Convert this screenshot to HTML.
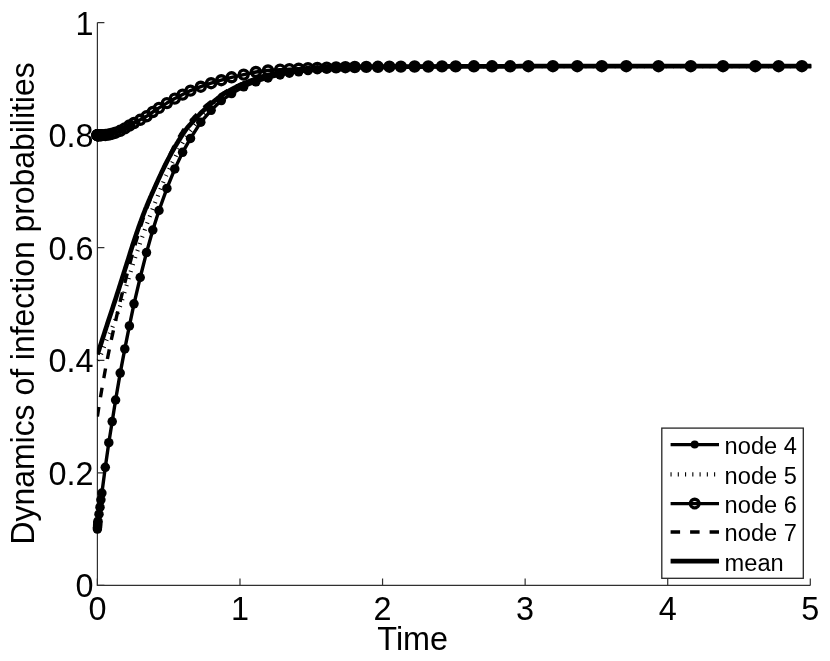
<!DOCTYPE html>
<html><head><meta charset="utf-8"><title>Dynamics of infection probabilities</title>
<style>
html,body{margin:0;padding:0;background:#fff;}
body{width:830px;height:661px;overflow:hidden;}
svg{display:block;will-change:transform;}
text{font-family:"Liberation Sans",sans-serif;fill:#000;}
.tk{font-size:34.0px;}
.lg{font-size:24.8px;}
</style></head><body>
<svg width="830" height="661" viewBox="0 0 830 661">
<rect width="830" height="661" fill="#fff"/>
<defs><clipPath id="ax"><rect x="96.9" y="0" width="714.3" height="600"/></clipPath></defs>

<path d="M97.4,22.6 L97.4,585.4 L810.3,585.4" fill="none" stroke="#303030" stroke-width="1.2"/>
<path d="M97.40,585.4 v-7 M239.98,585.4 v-7 M382.56,585.4 v-7 M525.14,585.4 v-7 M667.72,585.4 v-7 M810.30,585.4 v-7 M97.4,585.40 h7 M97.4,472.84 h7 M97.4,360.28 h7 M97.4,247.72 h7 M97.4,135.16 h7 M97.4,22.60 h7" fill="none" stroke="#303030" stroke-width="1.2"/>
<text class="tk" transform="translate(97.4,619.6) scale(0.953,1)" text-anchor="middle">0</text>
<text class="tk" transform="translate(240.0,619.6) scale(0.953,1)" text-anchor="middle">1</text>
<text class="tk" transform="translate(382.6,619.6) scale(0.953,1)" text-anchor="middle">2</text>
<text class="tk" transform="translate(525.1,619.6) scale(0.953,1)" text-anchor="middle">3</text>
<text class="tk" transform="translate(667.7,619.6) scale(0.953,1)" text-anchor="middle">4</text>
<text class="tk" transform="translate(810.3,619.6) scale(0.953,1)" text-anchor="middle">5</text>
<text class="tk" transform="translate(93.6,597.3) scale(0.953,1)" text-anchor="end">0</text>
<text class="tk" transform="translate(93.6,484.7) scale(0.953,1)" text-anchor="end">0.2</text>
<text class="tk" transform="translate(93.6,372.2) scale(0.953,1)" text-anchor="end">0.4</text>
<text class="tk" transform="translate(93.6,259.6) scale(0.953,1)" text-anchor="end">0.6</text>
<text class="tk" transform="translate(93.6,147.1) scale(0.953,1)" text-anchor="end">0.8</text>
<text class="tk" transform="translate(93.6,34.5) scale(0.953,1)" text-anchor="end">1</text>
<text class="tk" transform="translate(412.7,650.3) scale(0.953,1)" text-anchor="middle">Time</text>
<text class="tk" transform="translate(33.7,303.4) rotate(-90) scale(0.938,1)" text-anchor="middle">Dynamics of infection probabilities</text>
<path clip-path="url(#ax)" d="M97.4,529.1 L97.5,527.6 L97.6,526.1 L97.7,524.7 L97.8,522.8 L98.0,521.2 L99.0,514.2 L100.0,507.2 L100.9,499.8 L101.9,493.1 L105.3,467.3 L108.8,442.7 L112.2,421.6 L115.6,400.0 L120.2,373.1 L124.8,348.9 L129.4,325.9 L134.0,303.8 L140.2,277.5 L146.5,252.6 L152.8,230.0 L159.0,210.5 L166.9,188.4 L174.8,168.9 L182.6,152.3 L190.5,138.4 L200.8,122.2 L211.1,110.3 L221.3,100.6 L231.6,93.6 L243.7,86.8 L255.9,81.8 L268.0,77.9 L280.1,75.0 L289.4,73.2 L298.7,71.8 L308.0,70.6 L317.3,69.7 L326.7,68.9 L336.1,68.3 L345.4,67.8 L354.8,67.5 L366.3,67.2 L377.9,67.0 L389.4,66.8 L400.9,66.7 L414.6,66.6 L428.3,66.5 L442.0,66.5 L455.7,66.4 L473.9,66.3 L492.0,66.3 L510.2,66.3 L528.4,66.2 L552.9,66.2 L577.3,66.2 L601.8,66.2 L626.3,66.2 L658.5,66.2 L690.8,66.2 L723.0,66.2 L755.3,66.2 L778.6,66.2 L801.9,66.2 L815.0,66.2" fill="none" stroke="#000" stroke-width="3.4" stroke-linejoin="round"/>
<g fill="#000"><circle cx="97.4" cy="529.1" r="4.75"/><circle cx="97.5" cy="527.6" r="4.75"/><circle cx="97.6" cy="526.1" r="4.75"/><circle cx="97.7" cy="524.7" r="4.75"/><circle cx="97.8" cy="522.8" r="4.75"/><circle cx="98.0" cy="521.2" r="4.75"/><circle cx="99.0" cy="514.2" r="4.75"/><circle cx="100.0" cy="507.2" r="4.75"/><circle cx="100.9" cy="499.8" r="4.75"/><circle cx="101.9" cy="493.1" r="4.75"/><circle cx="105.3" cy="467.3" r="4.75"/><circle cx="108.8" cy="442.7" r="4.75"/><circle cx="112.2" cy="421.6" r="4.75"/><circle cx="115.6" cy="400.0" r="4.75"/><circle cx="120.2" cy="373.1" r="4.75"/><circle cx="124.8" cy="348.9" r="4.75"/><circle cx="129.4" cy="325.9" r="4.75"/><circle cx="134.0" cy="303.8" r="4.75"/><circle cx="140.2" cy="277.5" r="4.75"/><circle cx="146.5" cy="252.6" r="4.75"/><circle cx="152.8" cy="230.0" r="4.75"/><circle cx="159.0" cy="210.5" r="4.75"/><circle cx="166.9" cy="188.4" r="4.75"/><circle cx="174.8" cy="168.9" r="4.75"/><circle cx="182.6" cy="152.3" r="4.75"/><circle cx="190.5" cy="138.4" r="4.75"/><circle cx="200.8" cy="122.2" r="4.75"/><circle cx="211.1" cy="110.3" r="4.75"/><circle cx="221.3" cy="100.6" r="4.75"/><circle cx="231.6" cy="93.6" r="4.75"/><circle cx="243.7" cy="86.8" r="4.75"/><circle cx="255.9" cy="81.8" r="4.75"/><circle cx="268.0" cy="77.9" r="4.75"/><circle cx="280.1" cy="75.0" r="4.75"/><circle cx="289.4" cy="73.2" r="4.75"/><circle cx="298.7" cy="71.8" r="4.75"/><circle cx="308.0" cy="70.6" r="4.75"/><circle cx="317.3" cy="69.7" r="4.75"/><circle cx="326.7" cy="68.9" r="4.75"/><circle cx="336.1" cy="68.3" r="4.75"/><circle cx="345.4" cy="67.8" r="4.75"/><circle cx="354.8" cy="67.5" r="4.75"/><circle cx="366.3" cy="67.2" r="4.75"/><circle cx="377.9" cy="67.0" r="4.75"/><circle cx="389.4" cy="66.8" r="4.75"/><circle cx="400.9" cy="66.7" r="4.75"/><circle cx="414.6" cy="66.6" r="4.75"/><circle cx="428.3" cy="66.5" r="4.75"/><circle cx="442.0" cy="66.5" r="4.75"/><circle cx="455.7" cy="66.4" r="4.75"/><circle cx="473.9" cy="66.3" r="4.75"/><circle cx="492.0" cy="66.3" r="4.75"/><circle cx="510.2" cy="66.3" r="4.75"/><circle cx="528.4" cy="66.2" r="4.75"/><circle cx="552.9" cy="66.2" r="4.75"/><circle cx="577.3" cy="66.2" r="4.75"/><circle cx="601.8" cy="66.2" r="4.75"/><circle cx="626.3" cy="66.2" r="4.75"/><circle cx="658.5" cy="66.2" r="4.75"/><circle cx="690.8" cy="66.2" r="4.75"/><circle cx="723.0" cy="66.2" r="4.75"/><circle cx="755.3" cy="66.2" r="4.75"/><circle cx="778.6" cy="66.2" r="4.75"/><circle cx="801.9" cy="66.2" r="4.75"/></g>
<path clip-path="url(#ax)" d="M97.4,360.5 L97.9,359.7 L98.4,359.0 L98.9,358.2 L99.4,357.3 L99.9,356.4 L100.4,355.4 L100.9,354.4 L101.4,353.3 L101.9,352.1 L102.4,350.9 L102.9,349.6 L103.4,348.3 L103.9,347.0 L104.4,345.7 L104.9,344.3 L105.4,343.0 L105.9,341.8 L106.4,340.5 L106.9,339.4 L107.4,338.3 L107.9,337.3 L108.4,336.3 L108.9,335.3 L109.4,334.2 L109.9,333.1 L110.4,332.0 L110.9,330.9 L111.4,329.7 L111.9,328.5 L112.4,327.4 L112.9,326.1 L113.4,324.9 L113.9,323.7 L114.4,322.4 L114.9,321.0 L115.4,319.6 L115.9,318.2 L116.4,316.8 L116.9,315.4 L117.4,314.0 L117.9,312.6 L118.4,311.2 L118.9,309.7 L119.4,308.3 L119.9,306.8 L120.4,305.3 L120.9,303.7 L121.4,302.2 L121.9,300.6 L122.4,299.0 L122.9,297.4 L123.4,295.8 L123.9,294.2 L124.4,292.6 L124.9,290.9 L125.4,289.2 L125.9,287.6 L126.4,285.9 L126.9,284.3 L127.4,282.6 L127.9,280.9 L128.4,279.3 L128.9,277.6 L129.4,275.9 L129.9,274.3 L130.4,272.6 L130.9,271.0 L131.4,269.4 L131.9,267.7 L132.4,266.1 L132.9,264.6 L133.4,263.0 L133.9,261.4 L134.4,259.9 L134.9,258.4 L135.4,256.9 L135.9,255.4 L136.4,253.9 L136.9,252.5 L137.4,251.0 L137.9,249.5 L138.4,248.0 L138.9,246.6 L139.4,245.1 L139.9,243.7 L140.4,242.2 L140.9,240.8 L141.4,239.4 L141.9,237.9 L142.4,236.5 L142.9,235.1 L143.4,233.8 L143.9,232.4 L144.4,231.0 L144.9,229.6 L145.4,228.3 L145.9,226.9 L146.4,225.5 L146.9,224.2 L147.4,222.8 L147.9,221.4 L148.4,220.1 L148.9,218.8 L149.4,217.4 L149.9,216.1 L150.4,214.8 L150.9,213.5 L151.4,212.2 L151.9,210.9 L152.4,209.6 L152.9,208.3 L153.4,207.1 L153.9,205.8 L154.4,204.5 L154.9,203.3 L155.4,202.0 L155.9,200.8 L156.4,199.5 L156.9,198.2 L157.4,197.0 L157.9,195.7 L158.4,194.5 L158.9,193.2 L159.4,192.0 L159.9,190.7 L160.4,189.4 L160.9,188.2 L161.4,186.9 L161.9,185.7 L162.4,184.4 L162.9,183.2 L163.4,182.0 L163.9,180.8 L164.4,179.6 L164.9,178.4 L165.4,177.3 L165.9,176.1 L166.4,175.0 L166.9,173.9 L167.4,172.9 L167.9,171.8 L168.4,170.7 L168.9,169.7 L169.4,168.7 L169.9,167.6 L170.4,166.6 L170.9,165.6 L171.4,164.6 L171.9,163.6 L172.4,162.6 L172.9,161.7 L173.4,160.7 L173.9,159.7 L174.4,158.7 L174.9,157.8 L175.4,156.8 L175.9,155.8 L176.4,154.8 L176.9,153.8 L177.4,152.9 L177.9,151.9 L178.4,150.9 L178.9,149.9 L179.4,149.0 L179.9,148.0 L180.4,147.1 L180.9,146.2 L181.4,145.3 L181.9,144.4 L182.4,143.5 L182.9,142.6 L183.4,141.7 L183.9,140.9 L184.4,140.0 L184.9,139.2 L185.4,138.4 L185.9,137.6 L186.4,136.9 L186.9,136.1 L187.4,135.4 L187.9,134.7 L188.4,134.0 L188.9,133.3 L189.4,132.7 L189.9,132.0 L190.4,131.4 L190.9,130.7 L191.4,130.1 L191.9,129.4 L192.4,128.8 L192.9,128.1 L193.4,127.5 L193.9,126.8 L194.4,126.1 L194.9,125.5 L195.4,124.8 L195.9,124.2 L196.4,123.5 L196.9,122.8 L197.4,122.2 L197.9,121.6 L198.4,120.9 L198.9,120.3 L199.4,119.7 L199.9,119.1 L200.4,118.4 L200.9,117.9 L201.4,117.3 L201.9,116.7 L202.4,116.1 L202.9,115.5 L203.4,115.0 L203.9,114.4 L204.4,113.9 L204.9,113.3 L205.4,112.8 L205.9,112.3 L206.4,111.7 L206.9,111.2 L207.4,110.7 L207.9,110.2 L208.4,109.7 L208.9,109.2 L209.4,108.7 L209.9,108.2 L210.4,107.7 L210.9,107.2 L211.4,106.8 L211.9,106.3 L212.4,105.8 L212.9,105.4 L213.4,104.9 L213.9,104.5 L214.4,104.0 L214.9,103.6 L215.4,103.1 L215.9,102.7 L216.4,102.3 L216.9,101.8 L217.4,101.4 L217.9,100.9 L218.4,100.5 L218.9,100.1 L219.4,99.6 L219.9,99.2 L220.4,98.8 L220.9,98.4 L221.4,98.0 L221.9,97.6 L222.4,97.3 L222.9,96.9 L223.4,96.5 L223.9,96.1 L224.4,95.8 L224.9,95.4 L225.4,95.1 L225.9,94.7 L226.4,94.4 L226.9,94.1 L227.4,93.7 L227.9,93.4 L228.4,93.1 L228.9,92.7 L229.4,92.4 L229.9,92.1 L230.4,91.8 L230.9,91.5 L231.4,91.2 L231.9,90.9 L232.4,90.6 L232.9,90.3 L233.4,90.0 L233.9,89.7 L234.4,89.4 L234.9,89.1 L235.4,88.8 L235.9,88.6 L236.4,88.3 L236.9,88.0 L237.4,87.7 L237.9,87.5 L238.4,87.2 L238.9,86.9 L239.4,86.7 L239.9,86.4 L240.4,86.2 L240.9,85.9 L241.4,85.7 L241.9,85.4 L242.4,85.2 L242.9,84.9 L243.4,84.7 L243.9,84.4 L244.4,84.2 L244.9,84.0 L245.4,83.8 L245.9,83.5 L246.4,83.3 L246.9,83.1 L247.4,82.9 L247.9,82.7 L248.4,82.5 L248.9,82.2 L249.4,82.0 L249.9,81.8 L250.4,81.6 L250.9,81.4 L251.4,81.2 L251.9,81.1 L252.4,80.9 L252.9,80.7 L253.4,80.5 L253.9,80.3 L254.4,80.1 L254.9,79.9 L255.4,79.7 L255.9,79.5 L256.4,79.3 L256.9,79.2 L257.4,79.0 L257.9,78.8 L258.4,78.6 L258.9,78.4 L259.4,78.2 L259.9,78.1 L260.4,77.9 L260.9,77.7 L261.4,77.5 L261.9,77.4 L262.4,77.2 L262.9,77.0 L263.4,76.9 L263.9,76.7 L264.4,76.5 L264.9,76.4 L265.4,76.2 L265.9,76.1 L266.4,76.0 L266.9,75.8 L267.4,75.7 L267.9,75.6 L268.4,75.4 L268.9,75.3 L269.4,75.2 L269.9,75.1 L270.4,75.0 L270.9,74.8 L271.4,74.7 L271.9,74.6 L272.4,74.5 L272.9,74.4 L273.4,74.3 L273.9,74.2 L274.4,74.1 L274.9,74.0 L275.4,73.9 L275.9,73.8 L276.4,73.7 L276.9,73.6 L277.4,73.5 L277.9,73.4 L278.4,73.3 L278.9,73.3 L279.4,73.2 L279.9,73.1 L280.4,73.0 L280.9,72.9 L281.4,72.8 L281.9,72.7 L282.4,72.6 L282.9,72.6 L283.4,72.5 L283.9,72.4 L284.4,72.3 L284.9,72.2 L285.4,72.1 L285.9,72.1 L286.4,72.0 L286.9,71.9 L287.4,71.8 L287.9,71.8 L288.4,71.7 L288.9,71.6 L289.4,71.5 L289.9,71.5 L290.4,71.4 L290.9,71.3 L291.4,71.2 L291.9,71.2 L292.4,71.1 L292.9,71.0 L293.4,71.0 L293.9,70.9 L294.4,70.8 L294.9,70.8 L295.4,70.7 L295.9,70.7 L296.4,70.6 L296.9,70.5 L297.4,70.5 L297.9,70.4 L298.4,70.4 L298.9,70.3 L299.4,70.3 L299.9,70.2 L300.4,70.2 L300.9,70.1 L301.4,70.1 L301.9,70.0 L302.4,70.0 L302.9,69.9 L303.4,69.9 L303.9,69.8 L304.4,69.8 L304.9,69.7 L305.4,69.7 L305.9,69.6 L306.4,69.6 L306.9,69.5 L307.4,69.5 L307.9,69.5 L308.4,69.4 L308.9,69.4 L309.4,69.3 L309.9,69.3 L310.4,69.3 L310.9,69.2 L311.4,69.2 L311.9,69.1 L312.4,69.1 L312.9,69.1 L313.4,69.0 L313.9,69.0 L314.4,69.0 L314.9,68.9 L315.4,68.9 L315.9,68.8 L316.4,68.8 L316.9,68.8 L317.4,68.8 L317.9,68.7 L318.4,68.7 L318.9,68.7 L319.4,68.6 L319.9,68.6 L320.4,68.6 L320.9,68.6 L321.4,68.5 L321.9,68.5 L322.4,68.5 L322.9,68.4 L323.4,68.4 L323.9,68.4 L324.4,68.4 L324.9,68.3 L325.4,68.3 L325.9,68.3 L326.4,68.3 L326.9,68.2 L327.4,68.2 L327.9,68.2 L328.4,68.2 L328.9,68.1 L329.4,68.1 L329.9,68.1 L330.4,68.1 L330.9,68.1 L331.4,68.0 L331.9,68.0 L332.4,68.0 L332.9,68.0 L333.4,67.9 L333.9,67.9 L334.4,67.9 L334.9,67.9 L335.4,67.9 L335.9,67.8 L336.4,67.8 L336.9,67.8 L337.4,67.8 L337.9,67.8 L338.4,67.7 L338.9,67.7 L339.4,67.7 L339.9,67.7 L340.4,67.7 L340.9,67.7 L341.4,67.6 L341.9,67.6 L342.4,67.6 L342.9,67.6 L343.4,67.6 L343.9,67.6 L344.4,67.5 L344.9,67.5 L345.4,67.5 L345.9,67.5 L346.4,67.5 L346.9,67.5 L347.4,67.5 L347.9,67.4 L348.4,67.4 L348.9,67.4 L349.4,67.4 L349.9,67.4 L350.4,67.4 L350.9,67.4 L351.4,67.4 L351.9,67.4 L352.4,67.3 L352.9,67.3 L353.4,67.3 L353.9,67.3 L354.4,67.3 L354.9,67.3 L355.4,67.3 L355.9,67.3 L356.4,67.3 L356.9,67.3 L357.4,67.2 L357.9,67.2 L358.4,67.2 L358.9,67.2 L359.4,67.2 L359.9,67.2 L360.4,67.2 L360.9,67.2 L361.4,67.2 L361.9,67.2 L362.4,67.2 L362.9,67.2 L363.4,67.1 L363.9,67.1 L364.4,67.1 L364.9,67.1 L365.4,67.1 L365.9,67.1 L366.4,67.1 L366.9,67.1 L367.4,67.1 L367.9,67.1 L368.4,67.1 L368.9,67.1 L369.4,67.0 L369.9,67.0 L370.4,67.0 L370.9,67.0 L371.4,67.0 L371.9,67.0 L372.4,67.0 L372.9,67.0 L373.4,67.0 L373.9,67.0 L374.4,67.0 L374.9,67.0 L375.4,67.0 L375.9,67.0 L376.4,66.9 L376.9,66.9 L377.4,66.9 L377.9,66.9 L378.4,66.9 L378.9,66.9 L379.4,66.9 L379.9,66.9 L380.4,66.9 L380.9,66.9 L381.4,66.9 L381.9,66.9 L382.4,66.9 L382.9,66.9 L383.4,66.9 L383.9,66.9 L384.4,66.8 L384.9,66.8 L385.4,66.8 L385.9,66.8 L386.4,66.8 L386.9,66.8 L387.4,66.8 L387.9,66.8 L388.4,66.8 L388.9,66.8 L389.4,66.8 L389.9,66.8 L390.4,66.8 L390.9,66.8 L391.4,66.8 L391.9,66.8 L392.4,66.8 L392.9,66.8 L393.4,66.8 L393.9,66.8 L394.4,66.7 L394.9,66.7 L395.4,66.7 L395.9,66.7 L396.4,66.7 L396.9,66.7 L397.4,66.7 L397.9,66.7 L398.4,66.7 L398.9,66.7 L399.4,66.7 L399.9,66.7 L400.0,66.7 L405.0,66.7 L410.0,66.6 L415.0,66.6 L420.0,66.6 L425.0,66.5 L430.0,66.5 L435.0,66.5 L440.0,66.5 L445.0,66.4 L450.0,66.4 L455.0,66.4 L460.0,66.4 L465.0,66.4 L470.0,66.4 L475.0,66.3 L480.0,66.3 L485.0,66.3 L490.0,66.3 L495.0,66.3 L500.0,66.3 L505.0,66.3 L510.0,66.3 L515.0,66.3 L520.0,66.2 L525.0,66.2 L530.0,66.2 L535.0,66.2 L540.0,66.2 L545.0,66.2 L550.0,66.2 L555.0,66.2 L560.0,66.2 L565.0,66.2 L570.0,66.2 L575.0,66.2 L580.0,66.2 L585.0,66.2 L590.0,66.2 L595.0,66.2 L600.0,66.2 L605.0,66.2 L610.0,66.2 L615.0,66.2 L620.0,66.2 L625.0,66.2 L630.0,66.2 L635.0,66.2 L640.0,66.2 L645.0,66.2 L650.0,66.2 L655.0,66.2 L660.0,66.2 L665.0,66.2 L670.0,66.2 L675.0,66.2 L680.0,66.2 L685.0,66.2 L690.0,66.2 L695.0,66.2 L700.0,66.2 L705.0,66.2 L710.0,66.2 L715.0,66.2 L720.0,66.2 L725.0,66.2 L730.0,66.2 L735.0,66.2 L740.0,66.2 L745.0,66.2 L750.0,66.2 L755.0,66.2 L760.0,66.2 L765.0,66.2 L770.0,66.2 L775.0,66.2 L780.0,66.2 L785.0,66.2 L790.0,66.2 L795.0,66.2 L800.0,66.2 L805.0,66.2 L810.0,66.2 L810.3,66.2 L815.0,66.2" fill="none" stroke="#000" stroke-width="4.2" stroke-dasharray="1.05 6.25"/>
<path clip-path="url(#ax)" d="M97.4,135.2 L97.5,135.2 L97.6,135.2 L97.7,135.2 L97.8,135.2 L98.0,135.2 L99.0,135.2 L100.0,135.2 L100.9,135.2 L101.9,135.1 L105.3,135.0 L108.8,134.5 L112.2,133.7 L115.6,132.7 L120.2,130.8 L124.8,128.4 L129.4,125.5 L134.0,123.0 L140.2,119.8 L146.5,116.3 L152.8,112.0 L159.0,107.9 L166.9,103.1 L174.8,98.6 L182.6,94.6 L190.5,90.6 L200.8,86.7 L211.1,83.2 L221.3,80.2 L231.6,77.3 L243.7,74.6 L255.9,72.0 L268.0,70.5 L280.1,69.6 L289.4,69.1 L298.7,68.7 L308.0,68.2 L317.3,67.9 L326.7,67.6 L336.1,67.4 L345.4,67.2 L354.8,67.0 L366.3,66.9 L377.9,66.8 L389.4,66.7 L400.9,66.6 L414.6,66.5 L428.3,66.5 L442.0,66.4 L455.7,66.4 L473.9,66.3 L492.0,66.3 L510.2,66.3 L528.4,66.2 L552.9,66.2 L577.3,66.2 L601.8,66.2 L626.3,66.2 L658.5,66.2 L690.8,66.2 L723.0,66.2 L755.3,66.2 L778.6,66.2 L801.9,66.2 L815.0,66.2" fill="none" stroke="#000" stroke-width="3.4" stroke-linejoin="round"/>
<g fill="none" stroke="#000" stroke-width="3.4"><circle cx="97.4" cy="135.2" r="4.5"/><circle cx="97.5" cy="135.2" r="4.5"/><circle cx="97.6" cy="135.2" r="4.5"/><circle cx="97.7" cy="135.2" r="4.5"/><circle cx="97.8" cy="135.2" r="4.5"/><circle cx="98.0" cy="135.2" r="4.5"/><circle cx="99.0" cy="135.2" r="4.5"/><circle cx="100.0" cy="135.2" r="4.5"/><circle cx="100.9" cy="135.2" r="4.5"/><circle cx="101.9" cy="135.1" r="4.5"/><circle cx="105.3" cy="135.0" r="4.5"/><circle cx="108.8" cy="134.5" r="4.5"/><circle cx="112.2" cy="133.7" r="4.5"/><circle cx="115.6" cy="132.7" r="4.5"/><circle cx="120.2" cy="130.8" r="4.5"/><circle cx="124.8" cy="128.4" r="4.5"/><circle cx="129.4" cy="125.5" r="4.5"/><circle cx="134.0" cy="123.0" r="4.5"/><circle cx="140.2" cy="119.8" r="4.5"/><circle cx="146.5" cy="116.3" r="4.5"/><circle cx="152.8" cy="112.0" r="4.5"/><circle cx="159.0" cy="107.9" r="4.5"/><circle cx="166.9" cy="103.1" r="4.5"/><circle cx="174.8" cy="98.6" r="4.5"/><circle cx="182.6" cy="94.6" r="4.5"/><circle cx="190.5" cy="90.6" r="4.5"/><circle cx="200.8" cy="86.7" r="4.5"/><circle cx="211.1" cy="83.2" r="4.5"/><circle cx="221.3" cy="80.2" r="4.5"/><circle cx="231.6" cy="77.3" r="4.5"/><circle cx="243.7" cy="74.6" r="4.5"/><circle cx="255.9" cy="72.0" r="4.5"/><circle cx="268.0" cy="70.5" r="4.5"/><circle cx="280.1" cy="69.6" r="4.5"/><circle cx="289.4" cy="69.1" r="4.5"/><circle cx="298.7" cy="68.7" r="4.5"/><circle cx="308.0" cy="68.2" r="4.5"/><circle cx="317.3" cy="67.9" r="4.5"/><circle cx="326.7" cy="67.6" r="4.5"/><circle cx="336.1" cy="67.4" r="4.5"/><circle cx="345.4" cy="67.2" r="4.5"/><circle cx="354.8" cy="67.0" r="4.5"/><circle cx="366.3" cy="66.9" r="4.5"/><circle cx="377.9" cy="66.8" r="4.5"/><circle cx="389.4" cy="66.7" r="4.5"/><circle cx="400.9" cy="66.6" r="4.5"/><circle cx="414.6" cy="66.5" r="4.5"/><circle cx="428.3" cy="66.5" r="4.5"/><circle cx="442.0" cy="66.4" r="4.5"/><circle cx="455.7" cy="66.4" r="4.5"/><circle cx="473.9" cy="66.3" r="4.5"/><circle cx="492.0" cy="66.3" r="4.5"/><circle cx="510.2" cy="66.3" r="4.5"/><circle cx="528.4" cy="66.2" r="4.5"/><circle cx="552.9" cy="66.2" r="4.5"/><circle cx="577.3" cy="66.2" r="4.5"/><circle cx="601.8" cy="66.2" r="4.5"/><circle cx="626.3" cy="66.2" r="4.5"/><circle cx="658.5" cy="66.2" r="4.5"/><circle cx="690.8" cy="66.2" r="4.5"/><circle cx="723.0" cy="66.2" r="4.5"/><circle cx="755.3" cy="66.2" r="4.5"/><circle cx="778.6" cy="66.2" r="4.5"/><circle cx="801.9" cy="66.2" r="4.5"/></g>
<path clip-path="url(#ax)" d="M97.4,416.6 L97.9,413.3 L98.4,410.1 L98.9,407.0 L99.4,403.8 L99.9,400.7 L100.4,397.7 L100.9,394.7 L101.4,391.7 L101.9,388.8 L102.4,385.9 L102.9,383.1 L103.4,380.3 L103.9,377.5 L104.4,374.7 L104.9,372.0 L105.4,369.3 L105.9,366.7 L106.4,364.1 L106.9,361.5 L107.4,358.9 L107.9,356.4 L108.4,353.9 L108.9,351.4 L109.4,349.0 L109.9,346.6 L110.4,344.2 L110.9,341.9 L111.4,339.5 L111.9,337.2 L112.4,335.0 L112.9,332.7 L113.4,330.5 L113.9,328.2 L114.4,326.0 L114.9,323.8 L115.4,321.6 L115.9,319.5 L116.4,317.3 L116.9,315.2 L117.4,313.1 L117.9,311.0 L118.4,308.9 L118.9,306.8 L119.4,304.7 L119.9,302.6 L120.4,300.6 L120.9,298.5 L121.4,296.5 L121.9,294.5 L122.4,292.5 L122.9,290.5 L123.4,288.5 L123.9,286.5 L124.4,284.5 L124.9,282.6 L125.4,280.6 L125.9,278.7 L126.4,276.7 L126.9,274.8 L127.4,272.9 L127.9,271.0 L128.4,269.1 L128.9,267.2 L129.4,265.3 L129.9,263.4 L130.4,261.5 L130.9,259.7 L131.4,257.8 L131.9,256.0 L132.4,254.2 L132.9,252.4 L133.4,250.6 L133.9,248.9 L134.4,247.2 L134.9,245.5 L135.4,243.8 L135.9,242.1 L136.4,240.3 L136.9,238.7 L137.4,237.0 L137.9,235.3 L138.4,233.6 L138.9,232.0 L139.4,230.3 L139.9,228.7 L140.4,227.1 L140.9,225.5 L141.4,223.9 L141.9,222.4 L142.4,220.9 L142.9,219.4 L143.4,217.9 L143.9,216.4 L144.4,214.9 L144.9,213.5 L145.4,212.1 L145.9,210.7 L146.4,209.3 L146.9,207.9 L147.4,206.6 L147.9,205.2 L148.4,203.9 L148.9,202.6 L149.4,201.3 L149.9,200.0 L150.4,198.8 L150.9,197.5 L151.4,196.3 L151.9,195.1 L152.4,193.9 L152.9,192.7 L153.4,191.5 L153.9,190.3 L154.4,189.1 L154.9,188.0 L155.4,186.8 L155.9,185.6 L156.4,184.5 L156.9,183.3 L157.4,182.1 L157.9,180.9 L158.4,179.8 L158.9,178.6 L159.4,177.4 L159.9,176.3 L160.4,175.1 L160.9,173.9 L161.4,172.8 L161.9,171.7 L162.4,170.5 L162.9,169.4 L163.4,168.3 L163.9,167.2 L164.4,166.1 L164.9,165.0 L165.4,163.9 L165.9,162.8 L166.4,161.8 L166.9,160.7 L167.4,159.6 L167.9,158.6 L168.4,157.5 L168.9,156.5 L169.4,155.4 L169.9,154.4 L170.4,153.4 L170.9,152.4 L171.4,151.4 L171.9,150.4 L172.4,149.4 L172.9,148.4 L173.4,147.4 L173.9,146.5 L174.4,145.5 L174.9,144.6 L175.4,143.7 L175.9,142.7 L176.4,141.8 L176.9,140.9 L177.4,140.0 L177.9,139.1 L178.4,138.2 L178.9,137.3 L179.4,136.4 L179.9,135.6 L180.4,134.7 L180.9,133.9 L181.4,133.1 L181.9,132.4 L182.4,131.6 L182.9,130.8 L183.4,130.1 L183.9,129.3 L184.4,128.6 L184.9,127.9 L185.4,127.2 L185.9,126.5 L186.4,125.8 L186.9,125.1 L187.4,124.5 L187.9,123.9 L188.4,123.3 L188.9,122.8 L189.4,122.2 L189.9,121.6 L190.4,121.1 L190.9,120.6 L191.4,120.0 L191.9,119.5 L192.4,118.9 L192.9,118.4 L193.4,117.8 L193.9,117.3 L194.4,116.8 L194.9,116.2 L195.4,115.7 L195.9,115.2 L196.4,114.6 L196.9,114.1 L197.4,113.6 L197.9,113.1 L198.4,112.6 L198.9,112.1 L199.4,111.5 L199.9,111.0 L200.4,110.5 L200.9,110.1 L201.4,109.6 L201.9,109.1 L202.4,108.7 L202.9,108.2 L203.4,107.8 L203.9,107.3 L204.4,106.9 L204.9,106.5 L205.4,106.0 L205.9,105.6 L206.4,105.2 L206.9,104.8 L207.4,104.4 L207.9,104.0 L208.4,103.6 L208.9,103.2 L209.4,102.8 L209.9,102.4 L210.4,102.0 L210.9,101.7 L211.4,101.3 L211.9,100.9 L212.4,100.5 L212.9,100.2 L213.4,99.8 L213.9,99.4 L214.4,99.1 L214.9,98.7 L215.4,98.4 L215.9,98.0 L216.4,97.7 L216.9,97.3 L217.4,96.9 L217.9,96.6 L218.4,96.2 L218.9,95.9 L219.4,95.5 L219.9,95.2 L220.4,94.8 L220.9,94.5 L221.4,94.2 L221.9,93.9 L222.4,93.6 L222.9,93.3 L223.4,93.0 L223.9,92.7 L224.4,92.4 L224.9,92.1 L225.4,91.8 L225.9,91.5 L226.4,91.2 L226.9,90.9 L227.4,90.7 L227.9,90.4 L228.4,90.1 L228.9,89.9 L229.4,89.6 L229.9,89.3 L230.4,89.1 L230.9,88.8 L231.4,88.6 L231.9,88.3 L232.4,88.1 L232.9,87.8 L233.4,87.6 L233.9,87.3 L234.4,87.1 L234.9,86.9 L235.4,86.6 L235.9,86.4 L236.4,86.2 L236.9,85.9 L237.4,85.7 L237.9,85.5 L238.4,85.3 L238.9,85.0 L239.4,84.8 L239.9,84.6 L240.4,84.4 L240.9,84.2 L241.4,84.0 L241.9,83.7 L242.4,83.5 L242.9,83.3 L243.4,83.1 L243.9,82.9 L244.4,82.7 L244.9,82.5 L245.4,82.3 L245.9,82.1 L246.4,82.0 L246.9,81.8 L247.4,81.6 L247.9,81.4 L248.4,81.2 L248.9,81.0 L249.4,80.9 L249.9,80.7 L250.4,80.5 L250.9,80.3 L251.4,80.1 L251.9,80.0 L252.4,79.8 L252.9,79.6 L253.4,79.5 L253.9,79.3 L254.4,79.1 L254.9,79.0 L255.4,78.8 L255.9,78.6 L256.4,78.5 L256.9,78.3 L257.4,78.1 L257.9,78.0 L258.4,77.8 L258.9,77.6 L259.4,77.5 L259.9,77.3 L260.4,77.1 L260.9,77.0 L261.4,76.8 L261.9,76.7 L262.4,76.5 L262.9,76.4 L263.4,76.2 L263.9,76.1 L264.4,75.9 L264.9,75.8 L265.4,75.7 L265.9,75.6 L266.4,75.4 L266.9,75.3 L267.4,75.2 L267.9,75.1 L268.4,75.0 L268.9,74.9 L269.4,74.8 L269.9,74.7 L270.4,74.6 L270.9,74.5 L271.4,74.4 L271.9,74.3 L272.4,74.2 L272.9,74.1 L273.4,74.0 L273.9,73.9 L274.4,73.8 L274.9,73.7 L275.4,73.7 L275.9,73.6 L276.4,73.5 L276.9,73.4 L277.4,73.3 L277.9,73.2 L278.4,73.2 L278.9,73.1 L279.4,73.0 L279.9,72.9 L280.4,72.8 L280.9,72.8 L281.4,72.7 L281.9,72.6 L282.4,72.5 L282.9,72.4 L283.4,72.4 L283.9,72.3 L284.4,72.2 L284.9,72.1 L285.4,72.1 L285.9,72.0 L286.4,71.9 L286.9,71.8 L287.4,71.8 L287.9,71.7 L288.4,71.6 L288.9,71.6 L289.4,71.5 L289.9,71.4 L290.4,71.3 L290.9,71.3 L291.4,71.2 L291.9,71.1 L292.4,71.1 L292.9,71.0 L293.4,71.0 L293.9,70.9 L294.4,70.8 L294.9,70.8 L295.4,70.7 L295.9,70.6 L296.4,70.6 L296.9,70.5 L297.4,70.5 L297.9,70.4 L298.4,70.4 L298.9,70.3 L299.4,70.3 L299.9,70.2 L300.4,70.2 L300.9,70.1 L301.4,70.1 L301.9,70.0 L302.4,70.0 L302.9,69.9 L303.4,69.9 L303.9,69.8 L304.4,69.8 L304.9,69.7 L305.4,69.7 L305.9,69.6 L306.4,69.6 L306.9,69.5 L307.4,69.5 L307.9,69.5 L308.4,69.4 L308.9,69.4 L309.4,69.3 L309.9,69.3 L310.4,69.3 L310.9,69.2 L311.4,69.2 L311.9,69.1 L312.4,69.1 L312.9,69.1 L313.4,69.0 L313.9,69.0 L314.4,69.0 L314.9,68.9 L315.4,68.9 L315.9,68.8 L316.4,68.8 L316.9,68.8 L317.4,68.8 L317.9,68.7 L318.4,68.7 L318.9,68.7 L319.4,68.6 L319.9,68.6 L320.4,68.6 L320.9,68.6 L321.4,68.5 L321.9,68.5 L322.4,68.5 L322.9,68.4 L323.4,68.4 L323.9,68.4 L324.4,68.4 L324.9,68.3 L325.4,68.3 L325.9,68.3 L326.4,68.3 L326.9,68.2 L327.4,68.2 L327.9,68.2 L328.4,68.2 L328.9,68.1 L329.4,68.1 L329.9,68.1 L330.4,68.1 L330.9,68.1 L331.4,68.0 L331.9,68.0 L332.4,68.0 L332.9,68.0 L333.4,67.9 L333.9,67.9 L334.4,67.9 L334.9,67.9 L335.4,67.9 L335.9,67.8 L336.4,67.8 L336.9,67.8 L337.4,67.8 L337.9,67.8 L338.4,67.7 L338.9,67.7 L339.4,67.7 L339.9,67.7 L340.4,67.7 L340.9,67.7 L341.4,67.6 L341.9,67.6 L342.4,67.6 L342.9,67.6 L343.4,67.6 L343.9,67.6 L344.4,67.5 L344.9,67.5 L345.4,67.5 L345.9,67.5 L346.4,67.5 L346.9,67.5 L347.4,67.5 L347.9,67.4 L348.4,67.4 L348.9,67.4 L349.4,67.4 L349.9,67.4 L350.4,67.4 L350.9,67.4 L351.4,67.4 L351.9,67.4 L352.4,67.3 L352.9,67.3 L353.4,67.3 L353.9,67.3 L354.4,67.3 L354.9,67.3 L355.4,67.3 L355.9,67.3 L356.4,67.3 L356.9,67.3 L357.4,67.2 L357.9,67.2 L358.4,67.2 L358.9,67.2 L359.4,67.2 L359.9,67.2 L360.4,67.2 L360.9,67.2 L361.4,67.2 L361.9,67.2 L362.4,67.2 L362.9,67.2 L363.4,67.1 L363.9,67.1 L364.4,67.1 L364.9,67.1 L365.4,67.1 L365.9,67.1 L366.4,67.1 L366.9,67.1 L367.4,67.1 L367.9,67.1 L368.4,67.1 L368.9,67.1 L369.4,67.0 L369.9,67.0 L370.4,67.0 L370.9,67.0 L371.4,67.0 L371.9,67.0 L372.4,67.0 L372.9,67.0 L373.4,67.0 L373.9,67.0 L374.4,67.0 L374.9,67.0 L375.4,67.0 L375.9,67.0 L376.4,66.9 L376.9,66.9 L377.4,66.9 L377.9,66.9 L378.4,66.9 L378.9,66.9 L379.4,66.9 L379.9,66.9 L380.4,66.9 L380.9,66.9 L381.4,66.9 L381.9,66.9 L382.4,66.9 L382.9,66.9 L383.4,66.9 L383.9,66.9 L384.4,66.8 L384.9,66.8 L385.4,66.8 L385.9,66.8 L386.4,66.8 L386.9,66.8 L387.4,66.8 L387.9,66.8 L388.4,66.8 L388.9,66.8 L389.4,66.8 L389.9,66.8 L390.4,66.8 L390.9,66.8 L391.4,66.8 L391.9,66.8 L392.4,66.8 L392.9,66.8 L393.4,66.8 L393.9,66.8 L394.4,66.7 L394.9,66.7 L395.4,66.7 L395.9,66.7 L396.4,66.7 L396.9,66.7 L397.4,66.7 L397.9,66.7 L398.4,66.7 L398.9,66.7 L399.4,66.7 L399.9,66.7 L400.0,66.7 L405.0,66.7 L410.0,66.6 L415.0,66.6 L420.0,66.6 L425.0,66.5 L430.0,66.5 L435.0,66.5 L440.0,66.5 L445.0,66.4 L450.0,66.4 L455.0,66.4 L460.0,66.4 L465.0,66.4 L470.0,66.4 L475.0,66.3 L480.0,66.3 L485.0,66.3 L490.0,66.3 L495.0,66.3 L500.0,66.3 L505.0,66.3 L510.0,66.3 L515.0,66.3 L520.0,66.2 L525.0,66.2 L530.0,66.2 L535.0,66.2 L540.0,66.2 L545.0,66.2 L550.0,66.2 L555.0,66.2 L560.0,66.2 L565.0,66.2 L570.0,66.2 L575.0,66.2 L580.0,66.2 L585.0,66.2 L590.0,66.2 L595.0,66.2 L600.0,66.2 L605.0,66.2 L610.0,66.2 L615.0,66.2 L620.0,66.2 L625.0,66.2 L630.0,66.2 L635.0,66.2 L640.0,66.2 L645.0,66.2 L650.0,66.2 L655.0,66.2 L660.0,66.2 L665.0,66.2 L670.0,66.2 L675.0,66.2 L680.0,66.2 L685.0,66.2 L690.0,66.2 L695.0,66.2 L700.0,66.2 L705.0,66.2 L710.0,66.2 L715.0,66.2 L720.0,66.2 L725.0,66.2 L730.0,66.2 L735.0,66.2 L740.0,66.2 L745.0,66.2 L750.0,66.2 L755.0,66.2 L760.0,66.2 L765.0,66.2 L770.0,66.2 L775.0,66.2 L780.0,66.2 L785.0,66.2 L790.0,66.2 L795.0,66.2 L800.0,66.2 L805.0,66.2 L810.0,66.2 L810.3,66.2 L815.0,66.2" fill="none" stroke="#000" stroke-width="3.4" stroke-dasharray="9.8 9.7"/>
<path clip-path="url(#ax)" d="M97.4,354.5 L97.9,353.0 L98.4,351.5 L98.9,350.0 L99.4,348.5 L99.9,346.9 L100.4,345.4 L100.9,343.9 L101.4,342.4 L101.9,340.8 L102.4,339.3 L102.9,337.8 L103.4,336.2 L103.9,334.7 L104.4,333.1 L104.9,331.6 L105.4,330.0 L105.9,328.5 L106.4,326.9 L106.9,325.4 L107.4,323.8 L107.9,322.3 L108.4,320.8 L108.9,319.2 L109.4,317.7 L109.9,316.2 L110.4,314.7 L110.9,313.2 L111.4,311.7 L111.9,310.2 L112.4,308.7 L112.9,307.1 L113.4,305.6 L113.9,304.1 L114.4,302.6 L114.9,301.0 L115.4,299.5 L115.9,298.0 L116.4,296.4 L116.9,294.8 L117.4,293.3 L117.9,291.7 L118.4,290.2 L118.9,288.6 L119.4,287.0 L119.9,285.4 L120.4,283.9 L120.9,282.3 L121.4,280.7 L121.9,279.1 L122.4,277.6 L122.9,276.0 L123.4,274.4 L123.9,272.8 L124.4,271.2 L124.9,269.6 L125.4,268.1 L125.9,266.5 L126.4,264.9 L126.9,263.3 L127.4,261.8 L127.9,260.2 L128.4,258.6 L128.9,257.0 L129.4,255.4 L129.9,253.8 L130.4,252.1 L130.9,250.5 L131.4,249.0 L131.9,247.4 L132.4,245.8 L132.9,244.2 L133.4,242.7 L133.9,241.2 L134.4,239.7 L134.9,238.2 L135.4,236.7 L135.9,235.3 L136.4,233.8 L136.9,232.4 L137.4,230.9 L137.9,229.5 L138.4,228.1 L138.9,226.6 L139.4,225.2 L139.9,223.8 L140.4,222.4 L140.9,221.1 L141.4,219.7 L141.9,218.3 L142.4,217.0 L142.9,215.7 L143.4,214.4 L143.9,213.1 L144.4,211.8 L144.9,210.5 L145.4,209.2 L145.9,208.0 L146.4,206.8 L146.9,205.5 L147.4,204.3 L147.9,203.1 L148.4,201.9 L148.9,200.8 L149.4,199.6 L149.9,198.4 L150.4,197.3 L150.9,196.1 L151.4,195.0 L151.9,193.8 L152.4,192.7 L152.9,191.6 L153.4,190.5 L153.9,189.4 L154.4,188.2 L154.9,187.1 L155.4,186.0 L155.9,184.9 L156.4,183.8 L156.9,182.7 L157.4,181.6 L157.9,180.5 L158.4,179.4 L158.9,178.3 L159.4,177.2 L159.9,176.1 L160.4,175.0 L160.9,174.0 L161.4,172.9 L161.9,171.8 L162.4,170.8 L162.9,169.7 L163.4,168.7 L163.9,167.6 L164.4,166.6 L164.9,165.6 L165.4,164.6 L165.9,163.6 L166.4,162.6 L166.9,161.6 L167.4,160.7 L167.9,159.7 L168.4,158.7 L168.9,157.8 L169.4,156.8 L169.9,155.9 L170.4,155.0 L170.9,154.1 L171.4,153.1 L171.9,152.2 L172.4,151.3 L172.9,150.4 L173.4,149.6 L173.9,148.7 L174.4,147.8 L174.9,146.9 L175.4,146.1 L175.9,145.2 L176.4,144.4 L176.9,143.5 L177.4,142.7 L177.9,141.9 L178.4,141.1 L178.9,140.3 L179.4,139.5 L179.9,138.7 L180.4,137.9 L180.9,137.1 L181.4,136.3 L181.9,135.6 L182.4,134.8 L182.9,134.0 L183.4,133.3 L183.9,132.5 L184.4,131.8 L184.9,131.1 L185.4,130.3 L185.9,129.7 L186.4,129.0 L186.9,128.3 L187.4,127.7 L187.9,127.1 L188.4,126.5 L188.9,125.9 L189.4,125.4 L189.9,124.8 L190.4,124.3 L190.9,123.7 L191.4,123.2 L191.9,122.6 L192.4,122.1 L192.9,121.5 L193.4,121.0 L193.9,120.4 L194.4,119.9 L194.9,119.3 L195.4,118.8 L195.9,118.2 L196.4,117.7 L196.9,117.2 L197.4,116.6 L197.9,116.1 L198.4,115.6 L198.9,115.1 L199.4,114.6 L199.9,114.0 L200.4,113.5 L200.9,113.0 L201.4,112.5 L201.9,112.0 L202.4,111.5 L202.9,111.1 L203.4,110.6 L203.9,110.1 L204.4,109.6 L204.9,109.1 L205.4,108.7 L205.9,108.2 L206.4,107.7 L206.9,107.3 L207.4,106.8 L207.9,106.4 L208.4,105.9 L208.9,105.5 L209.4,105.1 L209.9,104.6 L210.4,104.2 L210.9,103.8 L211.4,103.4 L211.9,103.0 L212.4,102.6 L212.9,102.2 L213.4,101.8 L213.9,101.4 L214.4,101.0 L214.9,100.6 L215.4,100.2 L215.9,99.8 L216.4,99.4 L216.9,99.0 L217.4,98.6 L217.9,98.2 L218.4,97.8 L218.9,97.4 L219.4,97.0 L219.9,96.7 L220.4,96.3 L220.9,95.9 L221.4,95.6 L221.9,95.3 L222.4,94.9 L222.9,94.6 L223.4,94.3 L223.9,93.9 L224.4,93.6 L224.9,93.3 L225.4,93.0 L225.9,92.7 L226.4,92.4 L226.9,92.0 L227.4,91.7 L227.9,91.5 L228.4,91.2 L228.9,90.9 L229.4,90.6 L229.9,90.3 L230.4,90.0 L230.9,89.7 L231.4,89.5 L231.9,89.2 L232.4,88.9 L232.9,88.7 L233.4,88.4 L233.9,88.1 L234.4,87.9 L234.9,87.6 L235.4,87.4 L235.9,87.1 L236.4,86.9 L236.9,86.6 L237.4,86.4 L237.9,86.1 L238.4,85.9 L238.9,85.7 L239.4,85.4 L239.9,85.2 L240.4,85.0 L240.9,84.7 L241.4,84.5 L241.9,84.3 L242.4,84.1 L242.9,83.9 L243.4,83.6 L243.9,83.4 L244.4,83.2 L244.9,83.0 L245.4,82.8 L245.9,82.6 L246.4,82.4 L246.9,82.2 L247.4,82.0 L247.9,81.8 L248.4,81.6 L248.9,81.4 L249.4,81.2 L249.9,81.0 L250.4,80.9 L250.9,80.7 L251.4,80.5 L251.9,80.3 L252.4,80.1 L252.9,79.9 L253.4,79.8 L253.9,79.6 L254.4,79.4 L254.9,79.2 L255.4,79.1 L255.9,78.9 L256.4,78.7 L256.9,78.5 L257.4,78.4 L257.9,78.2 L258.4,78.0 L258.9,77.8 L259.4,77.7 L259.9,77.5 L260.4,77.3 L260.9,77.2 L261.4,77.0 L261.9,76.8 L262.4,76.7 L262.9,76.5 L263.4,76.4 L263.9,76.2 L264.4,76.1 L264.9,75.9 L265.4,75.8 L265.9,75.7 L266.4,75.5 L266.9,75.4 L267.4,75.3 L267.9,75.2 L268.4,75.1 L268.9,75.0 L269.4,74.9 L269.9,74.7 L270.4,74.6 L270.9,74.5 L271.4,74.4 L271.9,74.3 L272.4,74.2 L272.9,74.1 L273.4,74.0 L273.9,73.9 L274.4,73.9 L274.9,73.8 L275.4,73.7 L275.9,73.6 L276.4,73.5 L276.9,73.4 L277.4,73.3 L277.9,73.2 L278.4,73.2 L278.9,73.1 L279.4,73.0 L279.9,72.9 L280.4,72.8 L280.9,72.8 L281.4,72.7 L281.9,72.6 L282.4,72.5 L282.9,72.4 L283.4,72.4 L283.9,72.3 L284.4,72.2 L284.9,72.1 L285.4,72.1 L285.9,72.0 L286.4,71.9 L286.9,71.8 L287.4,71.8 L287.9,71.7 L288.4,71.6 L288.9,71.6 L289.4,71.5 L289.9,71.4 L290.4,71.3 L290.9,71.3 L291.4,71.2 L291.9,71.1 L292.4,71.1 L292.9,71.0 L293.4,71.0 L293.9,70.9 L294.4,70.8 L294.9,70.8 L295.4,70.7 L295.9,70.6 L296.4,70.6 L296.9,70.5 L297.4,70.5 L297.9,70.4 L298.4,70.4 L298.9,70.3 L299.4,70.3 L299.9,70.2 L300.4,70.2 L300.9,70.1 L301.4,70.1 L301.9,70.0 L302.4,70.0 L302.9,69.9 L303.4,69.9 L303.9,69.8 L304.4,69.8 L304.9,69.7 L305.4,69.7 L305.9,69.6 L306.4,69.6 L306.9,69.5 L307.4,69.5 L307.9,69.5 L308.4,69.4 L308.9,69.4 L309.4,69.3 L309.9,69.3 L310.4,69.3 L310.9,69.2 L311.4,69.2 L311.9,69.1 L312.4,69.1 L312.9,69.1 L313.4,69.0 L313.9,69.0 L314.4,69.0 L314.9,68.9 L315.4,68.9 L315.9,68.8 L316.4,68.8 L316.9,68.8 L317.4,68.8 L317.9,68.7 L318.4,68.7 L318.9,68.7 L319.4,68.6 L319.9,68.6 L320.4,68.6 L320.9,68.6 L321.4,68.5 L321.9,68.5 L322.4,68.5 L322.9,68.4 L323.4,68.4 L323.9,68.4 L324.4,68.4 L324.9,68.3 L325.4,68.3 L325.9,68.3 L326.4,68.3 L326.9,68.2 L327.4,68.2 L327.9,68.2 L328.4,68.2 L328.9,68.1 L329.4,68.1 L329.9,68.1 L330.4,68.1 L330.9,68.1 L331.4,68.0 L331.9,68.0 L332.4,68.0 L332.9,68.0 L333.4,67.9 L333.9,67.9 L334.4,67.9 L334.9,67.9 L335.4,67.9 L335.9,67.8 L336.4,67.8 L336.9,67.8 L337.4,67.8 L337.9,67.8 L338.4,67.7 L338.9,67.7 L339.4,67.7 L339.9,67.7 L340.4,67.7 L340.9,67.7 L341.4,67.6 L341.9,67.6 L342.4,67.6 L342.9,67.6 L343.4,67.6 L343.9,67.6 L344.4,67.5 L344.9,67.5 L345.4,67.5 L345.9,67.5 L346.4,67.5 L346.9,67.5 L347.4,67.5 L347.9,67.4 L348.4,67.4 L348.9,67.4 L349.4,67.4 L349.9,67.4 L350.4,67.4 L350.9,67.4 L351.4,67.4 L351.9,67.4 L352.4,67.3 L352.9,67.3 L353.4,67.3 L353.9,67.3 L354.4,67.3 L354.9,67.3 L355.4,67.3 L355.9,67.3 L356.4,67.3 L356.9,67.3 L357.4,67.2 L357.9,67.2 L358.4,67.2 L358.9,67.2 L359.4,67.2 L359.9,67.2 L360.4,67.2 L360.9,67.2 L361.4,67.2 L361.9,67.2 L362.4,67.2 L362.9,67.2 L363.4,67.1 L363.9,67.1 L364.4,67.1 L364.9,67.1 L365.4,67.1 L365.9,67.1 L366.4,67.1 L366.9,67.1 L367.4,67.1 L367.9,67.1 L368.4,67.1 L368.9,67.1 L369.4,67.0 L369.9,67.0 L370.4,67.0 L370.9,67.0 L371.4,67.0 L371.9,67.0 L372.4,67.0 L372.9,67.0 L373.4,67.0 L373.9,67.0 L374.4,67.0 L374.9,67.0 L375.4,67.0 L375.9,67.0 L376.4,66.9 L376.9,66.9 L377.4,66.9 L377.9,66.9 L378.4,66.9 L378.9,66.9 L379.4,66.9 L379.9,66.9 L380.4,66.9 L380.9,66.9 L381.4,66.9 L381.9,66.9 L382.4,66.9 L382.9,66.9 L383.4,66.9 L383.9,66.9 L384.4,66.8 L384.9,66.8 L385.4,66.8 L385.9,66.8 L386.4,66.8 L386.9,66.8 L387.4,66.8 L387.9,66.8 L388.4,66.8 L388.9,66.8 L389.4,66.8 L389.9,66.8 L390.4,66.8 L390.9,66.8 L391.4,66.8 L391.9,66.8 L392.4,66.8 L392.9,66.8 L393.4,66.8 L393.9,66.8 L394.4,66.7 L394.9,66.7 L395.4,66.7 L395.9,66.7 L396.4,66.7 L396.9,66.7 L397.4,66.7 L397.9,66.7 L398.4,66.7 L398.9,66.7 L399.4,66.7 L399.9,66.7 L400.0,66.7 L405.0,66.7 L410.0,66.6 L415.0,66.6 L420.0,66.6 L425.0,66.5 L430.0,66.5 L435.0,66.5 L440.0,66.5 L445.0,66.4 L450.0,66.4 L455.0,66.4 L460.0,66.4 L465.0,66.4 L470.0,66.4 L475.0,66.3 L480.0,66.3 L485.0,66.3 L490.0,66.3 L495.0,66.3 L500.0,66.3 L505.0,66.3 L510.0,66.3 L515.0,66.3 L520.0,66.2 L525.0,66.2 L530.0,66.2 L535.0,66.2 L540.0,66.2 L545.0,66.2 L550.0,66.2 L555.0,66.2 L560.0,66.2 L565.0,66.2 L570.0,66.2 L575.0,66.2 L580.0,66.2 L585.0,66.2 L590.0,66.2 L595.0,66.2 L600.0,66.2 L605.0,66.2 L610.0,66.2 L615.0,66.2 L620.0,66.2 L625.0,66.2 L630.0,66.2 L635.0,66.2 L640.0,66.2 L645.0,66.2 L650.0,66.2 L655.0,66.2 L660.0,66.2 L665.0,66.2 L670.0,66.2 L675.0,66.2 L680.0,66.2 L685.0,66.2 L690.0,66.2 L695.0,66.2 L700.0,66.2 L705.0,66.2 L710.0,66.2 L715.0,66.2 L720.0,66.2 L725.0,66.2 L730.0,66.2 L735.0,66.2 L740.0,66.2 L745.0,66.2 L750.0,66.2 L755.0,66.2 L760.0,66.2 L765.0,66.2 L770.0,66.2 L775.0,66.2 L780.0,66.2 L785.0,66.2 L790.0,66.2 L795.0,66.2 L800.0,66.2 L805.0,66.2 L810.0,66.2 L810.3,66.2 L815.0,66.2" fill="none" stroke="#000" stroke-width="4.7" stroke-linejoin="round"/>
<rect x="661.8" y="428.1" width="141.5" height="150.2" fill="#fff" stroke="#262626" stroke-width="1.3"/>
<path d="M670.6,444.6 H719.0" stroke="#000" stroke-width="3.4"/>
<circle cx="694.7" cy="444.6" r="4.0" fill="#000"/>
<path d="M670.5,474.3 H719.0" stroke="#000" stroke-width="4.2" stroke-dasharray="1.1 6.16"/>
<path d="M670.6,503.6 H719.0" stroke="#000" stroke-width="3.4"/>
<circle cx="694.7" cy="503.6" r="4.35" fill="none" stroke="#000" stroke-width="3.3"/>
<path d="M670.6,532.0 H719.0" stroke="#000" stroke-width="3.4" stroke-dasharray="9.5 10"/>
<path d="M670.6,561.2 H719.0" stroke="#000" stroke-width="4.7"/>
<text class="lg" transform="translate(724.6,453.9) scale(0.953,1)">node 4</text>
<text class="lg" transform="translate(724.6,483.6) scale(0.953,1)">node 5</text>
<text class="lg" transform="translate(724.6,512.9) scale(0.953,1)">node 6</text>
<text class="lg" transform="translate(724.6,541.3) scale(0.953,1)">node 7</text>
<text class="lg" transform="translate(724.6,570.5) scale(0.953,1)">mean</text>
</svg></body></html>
